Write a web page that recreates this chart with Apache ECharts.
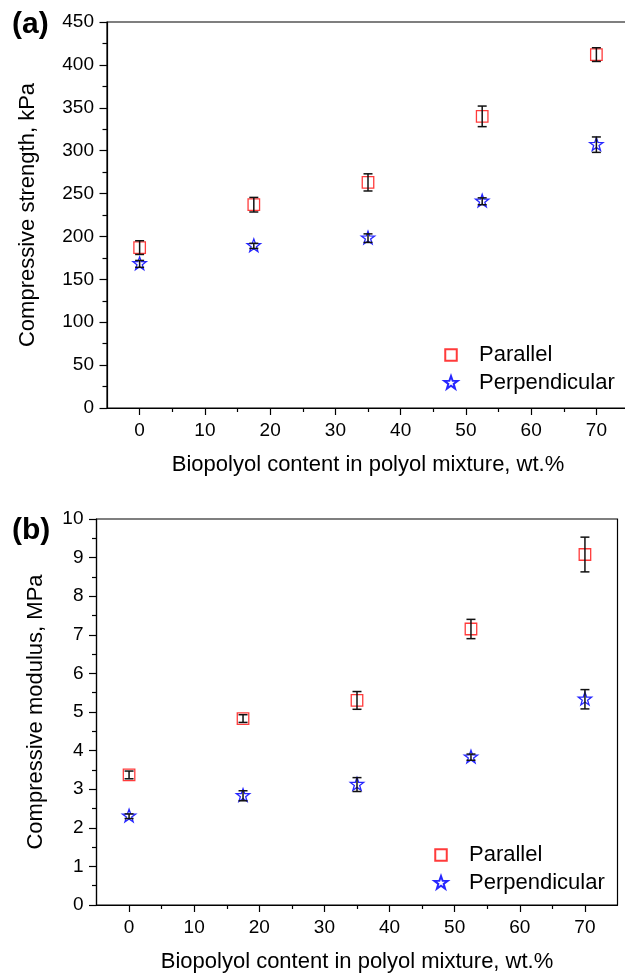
<!DOCTYPE html>
<html>
<head>
<meta charset="utf-8">
<script src="https://cdn.jsdelivr.net/npm/echarts@6/dist/echarts.min.js"></script>
<style>
html,body{margin:0;padding:0;background:#fff;}
#chart{width:625px;height:973px;}
</style>
</head>
<body>
<div id="chart"></div>
<script>
// ---- data ----
var contents = [0, 17.5, 35, 52.5, 70];
var strengthParallel = [187, 237, 263, 340, 412];
var strengthParallelErr = [8, 8.5, 10, 12, 8];
var strengthPerp = [168, 189, 198, 241, 307];
var strengthPerpErr = [4, 3, 5, 4, 9];
var modulusParallel = [3.37, 4.83, 5.3, 7.15, 9.08];
var modulusParallelErr = [0.1, 0.1, 0.23, 0.25, 0.45];
var modulusPerp = [2.3, 2.83, 3.12, 3.83, 5.33];
var modulusPerpErr = [0.06, 0.13, 0.18, 0.08, 0.25];
var xMajorTicks = [0, 10, 20, 30, 40, 50, 60, 70];
var xMinorTicks = [5, 15, 25, 35, 45, 55, 65];
var seriesNames = ['Parallel', 'Perpendicular'];
var panelLabels = ['(a)', '(b)'];
var xTitle = 'Biopolyol content in polyol mixture, wt.%';
var yTitles = ['Compressive strength, kPa', 'Compressive modulus, MPa'];

var FONT = 'Liberation Sans, Arial, sans-serif';
var RED = '#ff3b3b';
var BLUE = '#2626ff';
var SQUARE = 'path://M0,0M14,14M1.25,1.25L12.75,1.25L12.75,12.75L1.25,12.75Z';
var STAR = 'path://M0,0M14,14M7,0L8.646,4.735L13.657,4.837L9.663,7.865L11.114,12.663L7,9.8L2.886,12.663L4.337,7.865L0.343,4.837L5.354,4.735Z';

function pts(xs, ys) { return xs.map(function (x, i) { return [x, ys[i]]; }); }
function errPts(xs, ys, es) { return xs.map(function (x, i) { return [x, ys[i], es[i]]; }); }

function errRender(params, api) {
  var x = api.value(0), y = api.value(1), e = api.value(2);
  var top = api.coord([x, y + e]);
  var bot = api.coord([x, y - e]);
  var hw = 4.5;
  var st = { stroke: '#111', lineWidth: 1.5 };
  return {
    type: 'group',
    children: [
      { type: 'line', shape: { x1: top[0], y1: top[1], x2: bot[0], y2: bot[1] }, style: st },
      { type: 'line', shape: { x1: top[0] - hw, y1: top[1], x2: top[0] + hw, y2: top[1] }, style: st },
      { type: 'line', shape: { x1: bot[0] - hw, y1: bot[1], x2: bot[0] + hw, y2: bot[1] }, style: st }
    ]
  };
}

var grids = [
  { left: 107, width: 522, top: 22, height: 386 },
  { left: 96.5, width: 521, top: 519, height: 386 }
];

function xAxesFor(gi) {
  return [
    {
      type: 'value', gridIndex: gi, position: 'bottom', min: -5, max: 75, interval: 5,
      splitLine: { show: false },
      axisLine: { show: true, onZero: false, lineStyle: { color: '#000', width: 1.2 } },
      axisTick: { show: true, inside: false, length: 4, lineStyle: { color: '#000', width: 1.2 }, customValues: xMinorTicks },
      axisLabel: { show: true, customValues: xMajorTicks, color: '#000', fontSize: 19, fontFamily: FONT, margin: 13 },
      name: xTitle, nameLocation: 'middle', nameGap: 46,
      nameTextStyle: { color: '#000', fontSize: 22, fontFamily: FONT }
    },
    {
      type: 'value', gridIndex: gi, position: 'bottom', min: -5, max: 75, interval: 5,
      splitLine: { show: false },
      axisLine: { show: false, onZero: false },
      axisTick: { show: true, inside: false, length: 7, lineStyle: { color: '#000', width: 1.2 }, customValues: xMajorTicks },
      axisLabel: { show: false }
    }
  ];
}

function yAxisFor(gi, max, interval, title, gap) {
  return {
    type: 'value', gridIndex: gi, min: 0, max: max, interval: interval,
    splitLine: { show: false },
    axisLine: { show: true, onZero: false, lineStyle: { color: '#000', width: 1.2 } },
    axisTick: { show: true, inside: false, length: 7.5, lineStyle: { color: '#000', width: 1.2 } },
    minorTick: { show: true, splitNumber: 2, length: 4.5, lineStyle: { color: '#000', width: 1.2 } },
    axisLabel: { color: '#000', fontSize: 19, fontFamily: FONT, margin: 13 },
    name: title, nameLocation: 'middle', nameGap: gap,
    nameTextStyle: { color: '#000', fontSize: 22, fontFamily: FONT }
  };
}

function scatter(name, xi, yi, data, symbol, color) {
  return {
    type: 'scatter', name: name, xAxisIndex: xi, yAxisIndex: yi, data: data,
    symbol: symbol, symbolSize: 14, z: 2,
    itemStyle: { color: 'rgba(0,0,0,0)', borderColor: color, borderWidth: 1.3, opacity: 1 },
    emphasis: { disabled: true }
  };
}
function errSeries(xi, yi, data) {
  return {
    type: 'custom', name: 'err', xAxisIndex: xi, yAxisIndex: yi, data: data,
    renderItem: errRender, z: 3, silent: true
  };
}

var option = {
  backgroundColor: '#fff',
  animation: false,
  title: [
    { text: panelLabels[0], left: 7, top: 5, textStyle: { fontSize: 30, fontWeight: 'bold', fontFamily: FONT, color: '#000' } },
    { text: panelLabels[1], left: 7, top: 511, textStyle: { fontSize: 30, fontWeight: 'bold', fontFamily: FONT, color: '#000' } }
  ],
  grid: grids.map(function (g) {
    return Object.assign({ show: true, borderColor: '#000', borderWidth: 1.2, backgroundColor: 'transparent', outerBoundsMode: 'none', containLabel: false }, g);
  }),
  legend: [
    {
      data: seriesNames, orient: 'vertical', left: 438, top: 339, itemGap: 6,
      itemWidth: 46, itemHeight: 14, symbolKeepAspect: true, selectedMode: false,
      textStyle: { fontSize: 22, fontFamily: FONT, color: '#000' }
    },
    {
      data: seriesNames, orient: 'vertical', left: 428, top: 839, itemGap: 6,
      itemWidth: 46, itemHeight: 14, symbolKeepAspect: true, selectedMode: false,
      textStyle: { fontSize: 22, fontFamily: FONT, color: '#000' }
    }
  ],
  xAxis: xAxesFor(0).concat(xAxesFor(1)),
  yAxis: [
    yAxisFor(0, 450, 50, yTitles[0], 68),
    yAxisFor(1, 10, 1, yTitles[1], 50)
  ],
  series: [
    scatter(seriesNames[0], 0, 0, pts(contents, strengthParallel), SQUARE, RED),
    scatter(seriesNames[1], 0, 0, pts(contents, strengthPerp), STAR, BLUE),
    errSeries(0, 0, errPts(contents, strengthParallel, strengthParallelErr)),
    errSeries(0, 0, errPts(contents, strengthPerp, strengthPerpErr)),
    scatter(seriesNames[0], 2, 1, pts(contents, modulusParallel), SQUARE, RED),
    scatter(seriesNames[1], 2, 1, pts(contents, modulusPerp), STAR, BLUE),
    errSeries(2, 1, errPts(contents, modulusParallel, modulusParallelErr)),
    errSeries(2, 1, errPts(contents, modulusPerp, modulusPerpErr))
  ]
};

var chart = echarts.init(document.getElementById('chart'), null, { renderer: 'canvas' });
chart.setOption(option);
</script>
</body>
</html>
